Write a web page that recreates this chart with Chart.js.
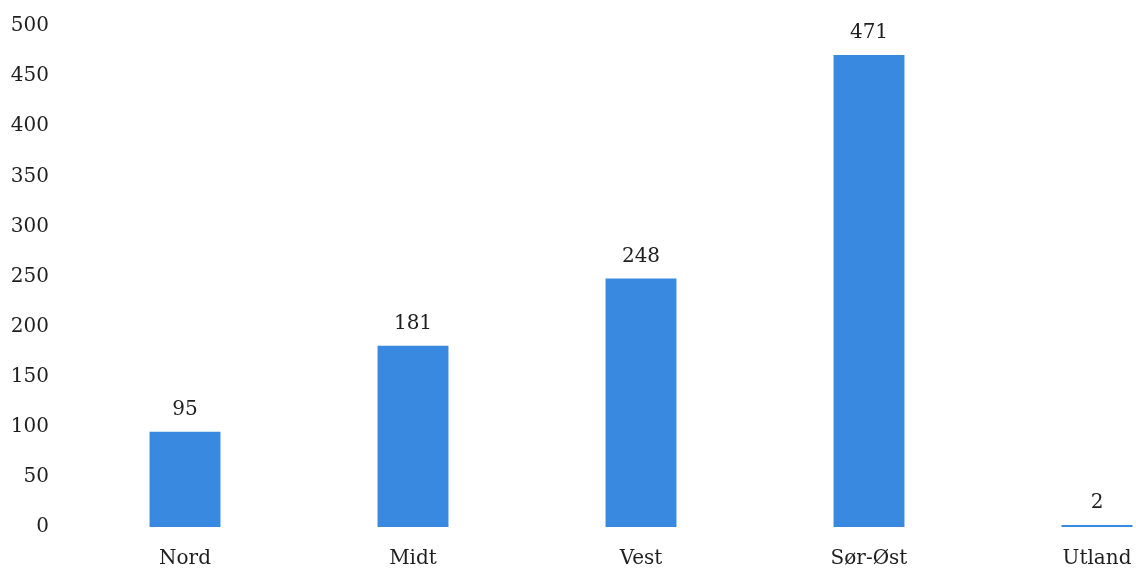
<!DOCTYPE html>
<html>
<head>
<meta charset="utf-8">
<script src="https://cdn.jsdelivr.net/npm/chart.js@4/dist/chart.umd.min.js"></script>
<style>
  html, body { margin: 0; padding: 0; background: #fff; overflow: hidden; }
  #wrap { width: 1211px; height: 571px; position: relative; }
</style>
</head>
<body>
<div id="wrap"><canvas id="c"></canvas></div>
<script>
// Regions and counts
const categories = ['Nord', 'Midt', 'Vest', 'Sør-Øst', 'Utland'];
const counts = [95, 181, 248, 471, 2];
const yTicks = [0, 50, 100, 150, 200, 250, 300, 350, 400, 450, 500];

const textColor = '#1f1f1f';
const fontSpec = { family: '"DejaVu Serif", serif', size: 20 };

// Writes each bar's value above it
const valueLabels = {
  id: 'valueLabels',
  afterDatasetsDraw(chart) {
    const { ctx } = chart;
    const meta = chart.getDatasetMeta(0);
    ctx.save();
    ctx.fillStyle = textColor;
    ctx.font = `${fontSpec.size}px ${fontSpec.family}`;
    ctx.textAlign = 'center';
    ctx.textBaseline = 'alphabetic';
    meta.data.forEach((bar, i) => {
      ctx.fillText(String(counts[i]), bar.x, bar.y - 17);
    });
    ctx.restore();
  }
};

new Chart(document.getElementById('c'), {
  type: 'bar',
  data: {
    labels: categories,
    datasets: [{
      data: counts,
      backgroundColor: '#3a89e1',
      borderWidth: 0,
      categoryPercentage: 1,
      barPercentage: 0.311
    }]
  },
  options: {
    responsive: true,
    maintainAspectRatio: false,
    animation: false,
    layout: { padding: { top: 0, left: 10, right: 0, bottom: 0 } },
    plugins: { legend: { display: false }, tooltip: { enabled: false } },
    scales: {
      x: {
        grid: { display: false, drawTicks: false },
        border: { display: false },
        ticks: { color: textColor, font: fontSpec, padding: 20, maxRotation: 0 },
        afterFit(scale) { scale.height = 44; }
      },
      y: {
        min: 0,
        max: 500,
        afterBuildTicks(scale) { scale.ticks = yTicks.map(v => ({ value: v })); },
        grid: { display: false, drawTicks: false },
        border: { display: false },
        ticks: { color: textColor, font: fontSpec, padding: 22 },
        afterFit(scale) {
          scale.width = 61;
          scale.paddingTop = 26;
        }
      }
    }
  },
  plugins: [valueLabels]
});
</script>
</body>
</html>
